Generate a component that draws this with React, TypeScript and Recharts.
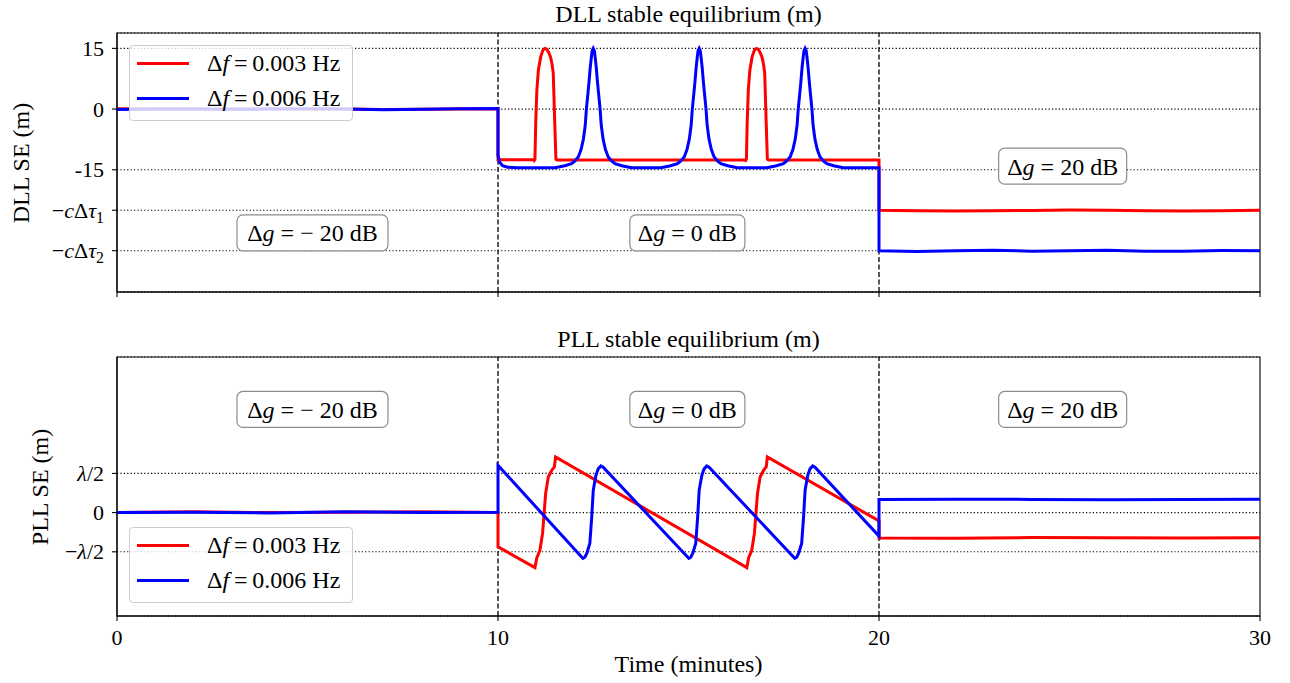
import React from 'react';
import {
  LineChart,
  Line,
  XAxis,
  YAxis,
  CartesianGrid,
  ReferenceLine,
  ReferenceArea,
  ReferenceDot,
} from 'recharts';

const FONT = '"Liberation Serif", "Times New Roman", serif';
const TEXT_SIZE = 24;
const TICK_SIZE = 22;

// time axis (minutes)
const timeTicks = [0, 10, 20, 30];
const segmentEdges = [10, 20];
const seriesNames = ['Δf\u2009=\u20090.003 Hz', 'Δf\u2009=\u20090.006 Hz'];
const seriesColors = ['#ff0000', '#0000ff'];
const gainLabels = ['Δg = − 20 dB', 'Δg = 0 dB', 'Δg = 20 dB'];
const gainLabelX = [5.13, 14.97, 24.82];

// DLL panel (metres)
const dllDomain = [-45.2, 18.8];
const dllTicks = [15, 0, -15, -25, -35];
const dllTickLabels = ['15', '0', '-15', '−cΔτ1', '−cΔτ2'];
const dllLabelY = [-30.6, -30.6, -14.1];

const dllRed: [number, number][] = [
  [0, 0.1], [1, 0.05], [2, 0.0], [3, 0.05], [4, 0.1], [5, 0.05], [6, 0.0], [7, -0.1], [8, -0.05], [9, 0.05], [10, 0.1],
  [10, -12.5], [10.93, -12.5], [10.95, -12.7], [10.97, -12.4],
  [10.99, -3.5], [11.02, 4.7], [11.06, 9.6], [11.12, 12.9], [11.18, 14.6], [11.23, 15.0], [11.28, 14.8],
  [11.33, 14.0], [11.38, 12.8], [11.42, 11.0], [11.45, 8.9], [11.49, -3.5], [11.52, -12.4], [11.55, -12.6],
  [16.48, -12.6], [16.5, -12.7], [16.52, -12.4],
  [16.54, -3.5], [16.57, 4.7], [16.61, 9.6], [16.67, 12.9], [16.73, 14.6], [16.78, 15.0], [16.83, 14.8],
  [16.88, 14.0], [16.93, 12.8], [16.97, 11.0], [17.0, 8.9], [17.04, -3.5], [17.07, -12.4], [17.1, -12.6],
  [20, -12.6], [20, -25.0], [21, -25.1], [22, -25.2], [23, -25.15], [24, -25.05], [25, -24.95],
  [26, -25.0], [27, -25.1], [28, -25.2], [29, -25.15], [30, -25.0],
];

const dllBlue: [number, number][] = [
  [0, -0.1], [1, 0], [2, 0.05], [3, -0.05], [4, 0], [5, 0.1], [6, 0.05], [7, -0.15], [8, -0.05], [9, 0.1], [10, 0.15],
  [10, -11.5], [10.05, -13.2], [10.12, -14.0], [10.25, -14.35], [10.5, -14.5],
  [11.5, -14.5], [11.75, -14.0], [11.93, -13.5], [12.02, -12.8], [12.11, -11.8], [12.18, -10.0], [12.24, -7.5],
  [12.29, -4.0], [12.32, 0], [12.36, 3.8], [12.39, 6.8], [12.42, 10.2], [12.45, 12.8], [12.47, 14.4], [12.5, 15.0],
  [12.53, 14.4], [12.55, 12.8], [12.58, 10.2], [12.61, 6.8], [12.64, 3.8], [12.68, 0], [12.71, -4.0], [12.76, -7.5],
  [12.82, -10.0], [12.89, -11.8], [12.98, -12.8], [13.07, -13.5], [13.25, -14.0], [13.5, -14.5],
  [14.28, -14.5], [14.53, -14.0], [14.71, -13.5], [14.8, -12.8], [14.89, -11.8], [14.96, -10.0], [15.02, -7.5],
  [15.07, -4.0], [15.1, 0], [15.14, 3.8], [15.17, 6.8], [15.2, 10.2], [15.23, 12.8], [15.25, 14.4], [15.28, 15.0],
  [15.31, 14.4], [15.33, 12.8], [15.36, 10.2], [15.39, 6.8], [15.42, 3.8], [15.46, 0], [15.49, -4.0], [15.54, -7.5],
  [15.6, -10.0], [15.67, -11.8], [15.76, -12.8], [15.85, -13.5], [16.03, -14.0], [16.28, -14.5],
  [17.06, -14.5], [17.31, -14.0], [17.49, -13.5], [17.58, -12.8], [17.67, -11.8], [17.74, -10.0], [17.8, -7.5],
  [17.85, -4.0], [17.88, 0], [17.92, 3.8], [17.95, 6.8], [17.98, 10.2], [18.01, 12.8], [18.03, 14.4], [18.06, 15.0],
  [18.09, 14.4], [18.11, 12.8], [18.14, 10.2], [18.17, 6.8], [18.2, 3.8], [18.24, 0], [18.27, -4.0], [18.32, -7.5],
  [18.38, -10.0], [18.45, -11.8], [18.54, -12.8], [18.63, -13.5], [18.81, -14.0], [19.06, -14.5],
  [20, -14.5], [20, -35.0], [21, -35.2], [22, -35.0], [23, -34.9], [24, -35.1], [25, -35.0],
  [26, -34.9], [27, -35.1], [28, -35.1], [29, -34.95], [30, -35.0],
];

// PLL panel (metres, lambda/2 = 0.095)
const pllDomain = [-0.2506, 0.3771];
const pllTicks = [0.095, 0, -0.095];
const pllTickLabels = ['λ/2', '0', '−λ/2'];
const pllLabelY = [0.25, 0.25, 0.25];

const pllRed: [number, number][] = [
  [0, 0], [2, 0.002], [4, 0], [6, 0.001], [8, 0.002], [10, 0],
  [10, -0.083], [10.97, -0.1333], [11.02, -0.109], [11.1, -0.0914], [11.17, -0.05], [11.21, -0.0024],
  [11.25, 0.046], [11.32, 0.0863], [11.41, 0.1025], [11.48, 0.1105], [11.51, 0.1348],
  [16.53, -0.1333], [16.58, -0.109], [16.66, -0.0914], [16.73, -0.05], [16.77, -0.0024],
  [16.81, 0.046], [16.88, 0.0863], [16.97, 0.1025], [17.04, 0.1105], [17.07, 0.1348],
  [20, -0.0203], [20, -0.0615], [22, -0.062], [24, -0.0605], [26, -0.061], [28, -0.0615], [30, -0.061],
];

const pllBlue: [number, number][] = [
  [0, 0], [2, 0.001], [4, -0.001], [6, 0.002], [8, 0], [10, 0.001],
  [10, 0.1146],
  [12.17, -0.105], [12.23, -0.111], [12.28, -0.108], [12.33, -0.099], [12.41, -0.075], [12.46, -0.011],
  [12.5, 0.054], [12.57, 0.09], [12.63, 0.106], [12.7, 0.113], [12.76, 0.11],
  [14.95, -0.105], [15.01, -0.111], [15.06, -0.108], [15.11, -0.099], [15.19, -0.075], [15.24, -0.011],
  [15.28, 0.054], [15.35, 0.09], [15.41, 0.106], [15.48, 0.113], [15.54, 0.11],
  [17.73, -0.105], [17.79, -0.111], [17.84, -0.108], [17.89, -0.099], [17.97, -0.075], [18.02, -0.011],
  [18.06, 0.054], [18.13, 0.09], [18.19, 0.106], [18.26, 0.113], [18.32, 0.11],
  [20, -0.057], [20, 0.032], [22, 0.0325], [24, 0.032], [26, 0.031], [28, 0.0315], [30, 0.0325],
];

const toRows = (pts: [number, number][]) => pts.map(([t, v]) => ({ t, v }));

const ITALIC = new Set(['c', 'τ', 'λ', 'g', 'f']);

// svg tspans for the little bits of math in labels
function mathSpans(text: string, size: number) {
  const chars = Array.from(text);
  return chars.map((ch, i) => {
    if (/\d/.test(ch) && chars[i - 1] === 'τ') {
      return <tspan key={i} dy={size * 0.22} fontSize={size * 0.72}>{ch}</tspan>;
    }
    if (ITALIC.has(ch)) return <tspan key={i} fontStyle="italic">{ch}</tspan>;
    return <tspan key={i}>{ch}</tspan>;
  });
}

function mathHtml(text: string) {
  return Array.from(text).map((ch, i) =>
    ITALIC.has(ch) ? <i key={i}>{ch}</i> : <span key={i}>{ch}</span>
  );
}

const makeYTick = (values: number[], labels: string[]) => (props: any) => {
  const { x, y, payload } = props;
  const idx = values.indexOf(payload.value);
  const label = idx >= 0 ? labels[idx] : String(payload.value);
  return (
    <text x={x} y={y} dy="0.35em" textAnchor="end" fontFamily={FONT} fontSize={TICK_SIZE} fill="#000">
      {mathSpans(label, TICK_SIZE)}
    </text>
  );
};

const XTick = (props: any) => {
  const { x, y, payload } = props;
  return (
    <text x={x} y={y} dy="0.71em" textAnchor="middle" fontFamily={FONT} fontSize={TICK_SIZE} fill="#000">
      {payload.value}
    </text>
  );
};

const NoTick = () => <g />;

const NOTE_W = [151, 115, 128];

const noteShape = (i: number) => (props: any) => {
  const { cx, cy } = props;
  const w = NOTE_W[i];
  const h = 36;
  return (
    <g>
      <rect x={cx - w / 2} y={cy - h / 2} width={w} height={h} rx={6} fill="#fff" stroke="#8c8c8c" strokeWidth={1.2} />
      <text x={cx} y={cy} dy="0.35em" textAnchor="middle" fontFamily={FONT} fontSize={TEXT_SIZE} fill="#000">
        {mathSpans(gainLabels[i], TEXT_SIZE)}
      </text>
    </g>
  );
};

function LegendBox({ top }: { top: number }) {
  return (
    <div
      style={{
        position: 'absolute',
        left: 129,
        top,
        width: 224,
        height: 76,
        boxSizing: 'border-box',
        border: '1px solid #cccccc',
        borderRadius: 4,
        background: 'rgba(255,255,255,0.8)',
        fontFamily: FONT,
        fontSize: TEXT_SIZE,
      }}
    >
      {seriesNames.map((name, i) => (
        <div
          key={name}
          style={{ position: 'absolute', left: 7, top: 2 + i * 35, height: 30, display: 'flex', alignItems: 'center', whiteSpace: 'nowrap' }}
        >
          <div style={{ width: 52, height: 3, background: seriesColors[i] }} />
          <span style={{ marginLeft: 18, lineHeight: '30px' }}>{mathHtml(name)}</span>
        </div>
      ))}
    </div>
  );
}

function Title({ text, top }: { text: string; top: number }) {
  return (
    <div style={{ position: 'absolute', left: 117, width: 1143, top, textAlign: 'center', fontFamily: FONT, fontSize: TEXT_SIZE, lineHeight: '24px' }}>
      {text}
    </div>
  );
}

function SideLabel({ text, cx, cy }: { text: string; cx: number; cy: number }) {
  return (
    <div
      style={{
        position: 'absolute',
        left: cx,
        top: cy,
        transform: 'translate(-50%, -50%) rotate(-90deg)',
        fontFamily: FONT,
        fontSize: TEXT_SIZE,
        lineHeight: '24px',
        whiteSpace: 'nowrap',
      }}
    >
      {text}
    </div>
  );
}

const axisStroke = { stroke: '#000', strokeWidth: 1.1 };

function Panel({
  height, marginTop, domain, ticks, tickLabels, red, blue, labelY, showTime,
}: {
  height: number; marginTop: number; domain: number[]; ticks: number[]; tickLabels: string[];
  red: [number, number][]; blue: [number, number][]; labelY: number[]; showTime: boolean;
}) {
  return (
    <LineChart width={1290} height={height} margin={{ top: marginTop, right: 30, bottom: 0, left: 0 }}>
      <CartesianGrid vertical={false} stroke="#000" strokeDasharray="1.2 2.2" strokeWidth={1.1} />
      <XAxis
        dataKey="t"
        type="number"
        domain={[0, 30]}
        ticks={timeTicks}
        allowDataOverflow
        height={showTime ? 67 : 8}
        tickSize={5}
        tickMargin={8}
        axisLine={axisStroke}
        tickLine={axisStroke}
        tick={showTime ? XTick : NoTick}
      />
      <YAxis
        type="number"
        domain={domain}
        ticks={ticks}
        interval={0}
        allowDataOverflow
        width={117}
        tickSize={5}
        tickMargin={8}
        axisLine={axisStroke}
        tickLine={axisStroke}
        tick={makeYTick(ticks, tickLabels)}
      />
      <ReferenceArea x1={0} x2={30} y1={domain[0]} y2={domain[1]} fill="none" stroke="#000" strokeWidth={1.1} />
      {segmentEdges.map((x) => (
        <ReferenceLine key={x} x={x} stroke="#000" strokeDasharray="5 2.5" strokeWidth={1.3} />
      ))}
      <Line data={toRows(red)} dataKey="v" type="linear" stroke={seriesColors[0]} strokeWidth={3} dot={false} isAnimationActive={false} />
      <Line data={toRows(blue)} dataKey="v" type="linear" stroke={seriesColors[1]} strokeWidth={3} dot={false} isAnimationActive={false} />
      {gainLabels.map((g, i) => (
        <ReferenceDot key={g} x={gainLabelX[i]} y={labelY[i]} r={0} shape={noteShape(i)} />
      ))}
    </LineChart>
  );
}

export default function App() {
  return (
    <div style={{ position: 'absolute', left: 0, top: 0, width: 1290, height: 683, background: '#fff', fontFamily: FONT }}>
      <div style={{ position: 'absolute', left: 0, top: 0 }}>
        <Panel height={300} marginTop={33} domain={dllDomain} ticks={dllTicks} tickLabels={dllTickLabels}
          red={dllRed} blue={dllBlue} labelY={dllLabelY} showTime={false} />
      </div>
      <div style={{ position: 'absolute', left: 0, top: 320 }}>
        <Panel height={363} marginTop={37} domain={pllDomain} ticks={pllTicks} tickLabels={pllTickLabels}
          red={pllRed} blue={pllBlue} labelY={pllLabelY} showTime />
      </div>
      <Title text="DLL stable equilibrium (m)" top={2} />
      <Title text="PLL stable equilibrium (m)" top={327} />
      <SideLabel text="DLL SE (m)" cx={21} cy={162.5} />
      <SideLabel text="PLL SE (m)" cx={40} cy={486.5} />
      <div style={{ position: 'absolute', left: 117, width: 1143, top: 652, textAlign: 'center', fontSize: TEXT_SIZE, lineHeight: '24px' }}>
        Time (minutes)
      </div>
      <LegendBox top={45} />
      <LegendBox top={527} />
    </div>
  );
}
